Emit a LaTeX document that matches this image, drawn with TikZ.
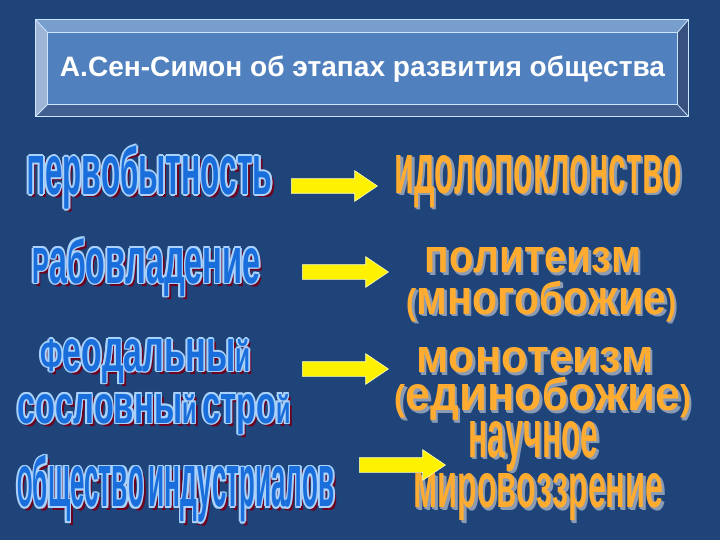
\documentclass[tikz,border=0pt]{standalone}
\usepackage{fontspec}
\setmainfont{Liberation Sans}
\usepackage{graphicx}
\usetikzlibrary{shapes.arrows}

\definecolor{bgblue}{RGB}{31,68,122}
\definecolor{faceblue}{RGB}{80,128,190}
\definecolor{bevtop}{RGB}{120,158,205}
\definecolor{bevleft}{RGB}{160,180,215}
\definecolor{bevright}{RGB}{55,80,125}
\definecolor{bevbottom}{RGB}{65,95,145}
\definecolor{rimline}{RGB}{205,230,255}
\definecolor{wordblue}{RGB}{25,110,220}
\definecolor{lightrim}{RGB}{170,210,250}
\definecolor{darkrim}{RGB}{110,0,30}
\definecolor{wordorange}{RGB}{255,172,48}
\definecolor{orshadow}{RGB}{140,155,180}
\definecolor{lightyellow}{RGB}{255,255,190}

% every letter of a word gets the same height
\ExplSyntaxOn
\NewDocumentCommand\evenword{m}
 {
  \tl_map_inline:nn {#1}
   {
    \setbox0\hbox{##1}
    \str_if_eq:nnT {##1} {б} { \ht0=0.78\ht0 }
    \resizebox{!}{1em}{\raisebox{\dp0}{\box0}}
   }
 }
\ExplSyntaxOff

\newsavebox\artbox
\newcommand\wcopy[3]{\makebox[0pt][l]{\hspace*{#1}\raisebox{#2}{\color{#3}\usebox\artbox}}}
\newcommand\blueword[3]{%
  \setbox\artbox\hbox{\resizebox{#1}{#2}{\bfseries #3}}%
  \wcopy{3.2pt}{-3.2pt}{darkrim}%
  \wcopy{1.7pt}{0pt}{lightrim}\wcopy{-1.7pt}{0pt}{lightrim}%
  \wcopy{0pt}{1.7pt}{lightrim}\wcopy{0pt}{-1.7pt}{lightrim}%
  \wcopy{1.2pt}{1.2pt}{lightrim}\wcopy{-1.2pt}{1.2pt}{lightrim}%
  \wcopy{1.2pt}{-1.2pt}{lightrim}\wcopy{-1.2pt}{-1.2pt}{lightrim}%
  {\color{wordblue}\usebox\artbox}}
\newcommand\orangeword[3]{%
  \setbox\artbox\hbox{\resizebox{#1}{#2}{\bfseries #3}}%
  \wcopy{2.5pt}{-2.5pt}{orshadow}\wcopy{1.3pt}{-1.3pt}{orshadow}%
  {\color{wordorange}\usebox\artbox}}

\begin{document}
\begin{tikzpicture}[x = 1pt, y = -1pt,
    every node/.style = { inner sep = 0pt },
    rim/.style = { draw = rimline, line width = .8pt },
    arrowbox/.style = { single arrow, fill = yellow, draw = lightyellow, line width = .6pt,
      minimum height = 86pt, inner xsep = 0pt, inner ysep = 7pt,
      single arrow head extend = 8pt, single arrow tip angle = 68 }]
    \fill[bgblue] (0,0) rectangle (720,540);

    % title frame
    \node[minimum width = 652pt, minimum height = 96pt] (outer) at (362,68) {};
    \node[minimum width = 629pt, minimum height = 71pt, fill = faceblue] (inner) at (362.5,68.5) {};
    \fill[bevtop] (outer.north west) -- (outer.north east) -- (inner.north east) -- (inner.north west) -- cycle;
    \fill[bevleft] (outer.north west) -- (inner.north west) -- (inner.south west) -- (outer.south west) -- cycle;
    \fill[bevright] (outer.north east) -- (outer.south east) -- (inner.south east) -- (inner.north east) -- cycle;
    \fill[bevbottom] (outer.south west) -- (inner.south west) -- (inner.south east) -- (outer.south east) -- cycle;
    \draw[rim] (outer.north west) rectangle (outer.south east);
    \draw[rim] (inner.north west) rectangle (inner.south east);
    \draw[rim] (outer.north west) -- (inner.north west)  (outer.north east) -- (inner.north east)
               (outer.south west) -- (inner.south west)  (outer.south east) -- (inner.south east);
    \node[text = white] (title) at (362.5,69)
      {\resizebox{605pt}{!}{\bfseries А.Сен-Симон об этапах развития общества}};

    % stages
    \node (pervob) at (150,183.5) {\blueword{245pt}{38pt}{\evenword{Первобытность}}};
    \node (rabov)  at (146.5,273) {\blueword{228pt}{35pt}{\evenword{Рабовладение}}};
    \node (feod)   at (145.5,362) {\blueword{210pt}{32pt}{\evenword{Феодальный}}};
    \node (soslov) at (154,415)   {\blueword{273pt}{29pt}{\evenword{сословный}\hspace{.35em}\evenword{строй}}};
    \node (obsch)  at (176,495.5) {\blueword{317pt}{40pt}{\evenword{Общество}\hspace{.35em}\evenword{индустриалов}}};

    % beliefs
    \node (idol)  at (538,182.5)   {\orangeword{287pt}{38pt}{\evenword{идолопоклонство}}};
    \node (polit) at (533,261.5)   {\orangeword{217pt}{25pt}{\evenword{политеизм}}};
    \node (mnogo) at (541.5,306)   {\orangeword{270pt}{26pt}{\evenword{(многобожие)}}};
    \node (monot) at (535,361.5)   {\orangeword{237pt}{25pt}{\evenword{монотеизм}}};
    \node (edino) at (543,404)     {\orangeword{297pt}{26pt}{\evenword{(единобожие)}}};
    \node (nauch) at (533.5,447.5) {\orangeword{130pt}{36pt}{\evenword{научное}}};
    \node (mirov) at (538.5,498.5) {\orangeword{250pt}{34pt}{\evenword{мировоззрение}}};

    % arrows
    \node[arrowbox] (arr1) at (329,186) {};
    \node[arrowbox] (arr2) at (340,272) {};
    \node[arrowbox] (arr3) at (340,369) {};
    \node[arrowbox] (arr4) at (397,465) {};
\end{tikzpicture}
\end{document}
